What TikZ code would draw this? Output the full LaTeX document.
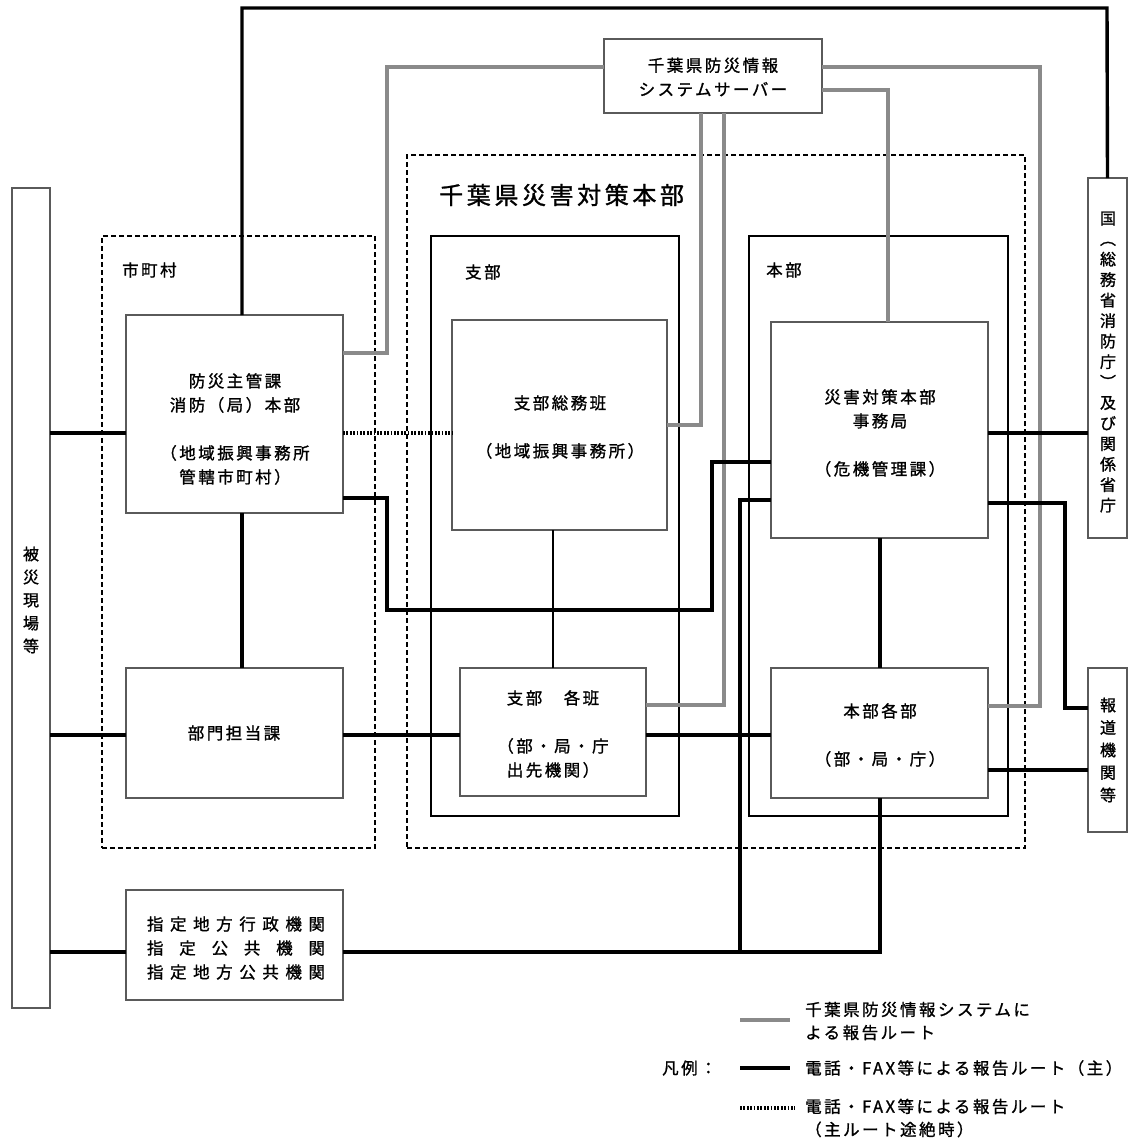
\documentclass[tikz,border=0pt]{standalone}
\usepackage{fontspec}
\newfontfamily\jp{Noto Sans CJK JP}[LetterSpace=15,FakeBold=1.2]
\newfontfamily\jpn{Noto Sans CJK JP}[FakeBold=1.2]
\definecolor{boxgray}{HTML}{5A5A5A}
\definecolor{linegray}{HTML}{8A8A8A}
\newcommand\mkbox[6][box]{\node[#1, minimum width={#5-#3}, minimum height={#6-#4}] (#2) at ({(#3+#5)/2},{(#4+#6)/2}) {};}
\begin{document}
\begin{tikzpicture}[x=1pt,y=-1pt,
 box/.style={draw=boxgray, line width=1.6pt, fill=white, inner sep=0pt, outer sep=0pt},
 frame/.style={draw=black, line width=1.7pt, inner sep=0pt, outer sep=0pt},
 dframe/.style={draw=black, line width=1.4pt, dash pattern=on 5pt off 3pt, inner sep=0pt, outer sep=0pt},
 blk/.style={draw=black, line width=3.4pt},
 thinblk/.style={draw=black, line width=2.4pt},
 gry/.style={draw=linegray, line width=3.4pt},
 dots/.style={draw=black, line width=3.4pt, dash pattern=on 1.8pt off 1.6pt},
 txt/.style={font=\jp\fontsize{16.5}{24}\selectfont, align=center, inner sep=0pt},
 ltxt/.style={font=\jp\fontsize{16.5}{23}\selectfont, align=left, inner sep=0pt, anchor=west},
 vtxt/.style={font=\jpn\fontsize{16}{#1}\selectfont, align=center, inner sep=0pt},
]
\useasboundingbox (0,0) rectangle (1129,1144);
% frames
\mkbox[dframe]{shichoson}{102}{236}{375}{848}
\mkbox[dframe]{chiba}{407}{155}{1025}{848}
\mkbox[frame]{shibu}{431}{236}{679}{816}
\mkbox[frame]{honbu}{749}{236}{1008}{816}
% boxes
\mkbox{higai}{12}{188}{50}{1008}
\mkbox{bousai}{126}{315}{343}{513}
\mkbox{bumon}{126}{668}{343}{798}
\mkbox{shitei}{126}{890}{343}{1000}
\mkbox{shibusomu}{452}{320}{667}{530}
\mkbox{kakuhan}{460}{668}{646}{796}
\mkbox{jimukyoku}{771}{322}{988}{538}
\mkbox{kakubu}{771}{668}{988}{798}
\mkbox{server}{604}{39}{822}{113}
\mkbox{kuni}{1088}{178}{1127}{538}
\mkbox{hodo}{1088}{668}{1127}{832}
% gray system routes
\draw[gry] (server.west |- 0,67) -- (387,67) -- (387,353) -- (bousai.east |- 0,353);
\draw[gry] (server.east |- 0,67) -- (1040,67) -- (1040,706) -- (kakubu.east |- 0,706);
\draw[gry] (server.east |- 0,90) -- (888,90) -- (jimukyoku.north -| 888,0);
\draw[gry] (server.south -| 701,0) -- (701,425) -- (shibusomu.east |- 0,425);
\draw[gry] (server.south -| 724,0) -- (724,705) -- (kakuhan.east |- 0,705);
% black routes
\draw[blk] (bousai.north -| 242,0) -- (242,8) -- (1107,8) -- (kuni.north);
\draw[blk] (higai.east |- 0,433) -- (bousai.west |- 0,433);
\draw[blk] (higai.east |- 0,735) -- (bumon.west |- 0,735);
\draw[blk] (higai.east |- 0,952) -- (shitei.west |- 0,952);
\draw[blk] (bousai.south -| 242,0) -- (bumon.north -| 242,0);
\draw[blk] (bumon.east |- 0,735) -- (kakuhan.west |- 0,735);
\draw[blk] (kakuhan.east |- 0,735) -- (kakubu.west |- 0,735);
\draw[blk] (bousai.east |- 0,498) -- (387,498) -- (387,610) -- (712,610) -- (712,462) -- (jimukyoku.west |- 0,462);
\draw[blk] (shitei.east |- 0,952) -- (880,952) -- (kakubu.south -| 880,0);
\draw[blk] (740,952) -- (740,500) -- (jimukyoku.west |- 0,500);
\draw[blk] (jimukyoku.south -| 880,0) -- (kakubu.north -| 880,0);
\draw[thinblk] (shibusomu.south -| 553,0) -- (kakuhan.north -| 553,0);
\draw[blk] (jimukyoku.east |- 0,433) -- (kuni.west |- 0,433);
\draw[blk] (jimukyoku.east |- 0,503) -- (1065,503) -- (1065,708) -- (hodo.west |- 0,708);
\draw[blk] (kakubu.east |- 0,770) -- (hodo.west |- 0,770);
% dotted backup
\draw[dots] (bousai.east |- 0,433) -- (shibusomu.west |- 0,433);
% labels
\node[ltxt] (lshichoson) at (122,270) {市町村};
\node[ltxt] (lshibu) at (465,272) {支部};
\node[ltxt] (lhonbu) at (766,270) {本部};
\node[inner sep=0pt, anchor=west, font=\jp\fontsize{24}{28}\selectfont] (ltitle) at (439,195) {千葉県災害対策本部};
\node[txt] (tbousai) at (235,429) {防災主管課\\消防（局）本部\\[24pt]（地域振興事務所\\管轄市町村）};
\node[txt] (tbumon) at (234,733) {部門担当課};
\node[txt] (tshitei) at (236,948) {\makebox[178pt]{指\hfill 定\hfill 地\hfill 方\hfill 行\hfill 政\hfill 機\hfill 関}\\\makebox[178pt]{指\hfill 定\hfill 公\hfill 共\hfill 機\hfill 関}\\\makebox[178pt]{指\hfill 定\hfill 地\hfill 方\hfill 公\hfill 共\hfill 機\hfill 関}};
\node[txt] (tsomu) at (560,427) {支部総務班\\[24pt]（地域振興事務所）};
\node[txt] (tkakuhan) at (553,734) {支部　各班\\[24pt]（部・局・庁\\出先機関）};
\node[txt] (tjimu) at (880,433) {災害対策本部\\事務局\\[24pt]（危機管理課）};
\node[txt] (tkakubu) at (880,735) {本部各部\\[24pt]（部・局・庁）};
\node[txt] (tserver) at (713,77) {千葉県防災情報\\システムサーバー};
\node[vtxt=23] (thigai) at (31,600) {被\\災\\現\\場\\等};
\node[vtxt=20.5] (tkuni) at (1108,362) {国\\︵\\総\\務\\省\\消\\防\\庁\\︶\\及\\び\\関\\係\\省\\庁};
\node[vtxt=22.5] (thodo) at (1108,750) {報\\道\\機\\関\\等};
% legend
\coordinate (g1) at (740,1020); \coordinate (g2) at (790,1020);
\coordinate (b1) at (740,1068); \coordinate (b2) at (790,1068);
\coordinate (d1) at (740,1108); \coordinate (d2) at (795,1108);
\draw[gry] (g1) -- (g2);
\draw[blk] (b1) -- (b2);
\draw[dots] (d1) -- (d2);
\node[ltxt] (lg) at (805,1021) {千葉県防災情報システムに\\よる報告ルート};
\node[ltxt] (lhanrei) at (662,1068) {凡例：};
\node[ltxt] (lb) at (805,1068) {電話・FAX等による報告ルート（主）};
\node[ltxt] (ld) at (805,1118) {電話・FAX等による報告ルート\\（主ルート途絶時）};
\end{tikzpicture}
\end{document}
